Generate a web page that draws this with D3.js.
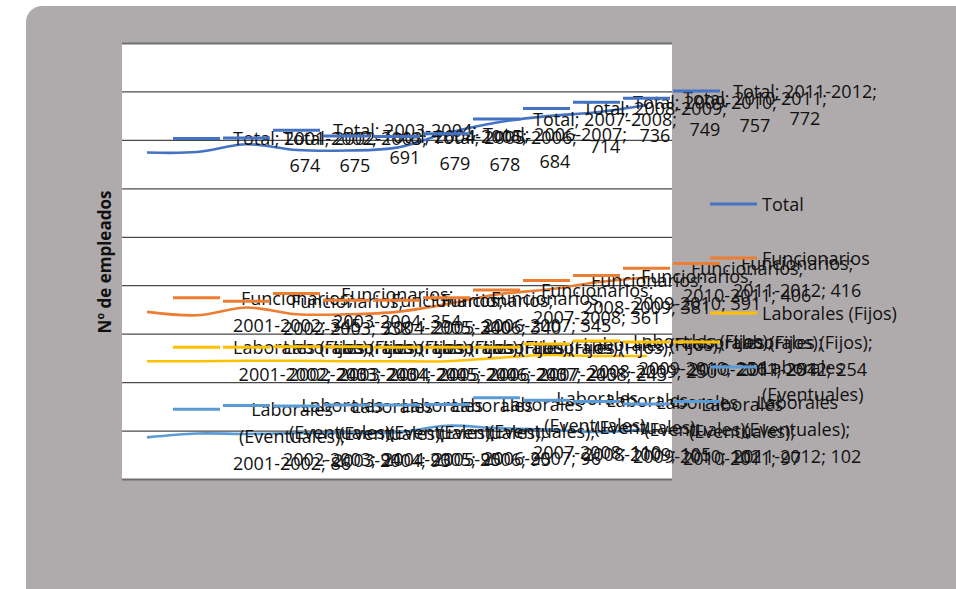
<!DOCTYPE html>
<html><head><meta charset="utf-8">
<script src="https://cdn.jsdelivr.net/npm/d3@7"></script>
<style>body{margin:0;background:#fff}svg{display:block}</style>
</head><body>
<svg id="c" width="956" height="589"></svg>
<script>
const categories = ["2001-2002","2002-2003","2003-2004","2004-2005","2005-2006","2006-2007","2007-2008","2008-2009","2009-2010","2010-2011","2011-2012"];
const total        = [674,675,691,679,678,684,714,736,749,757,772];
const funcionarios = [345,338,354,340,340,345,361,381,391,406,416];
const fijos        = [243,243,244,244,243,243,243,250,256,254,254];
const eventuales   = [86,94,93,95,95,96,110,105,102,97,102];
const seriesNames  = ["Total","Funcionarios","Laborales (Fijos)","Laborales (Eventuales)"];
const yTicks = [0,100,200,300,400,500,600,700,800,900];
const yTitle = "Nº de empleados";

const colors = ["#4472C4","#ED7D31","#FFC000","#5B9BD5"];
const seriesData = [total, funcionarios, fijos, eventuales];
const labelLines = [
  (c,v)=>[`Total; ${c};`, `${v}`],
  (c,v)=>["Funcionarios;", `${c}; ${v}`],
  (c,v)=>["Laborales (Fijos);", `${c}; ${v}`],
  (c,v)=>["Laborales", "(Eventuales);", `${c}; ${v}`]
];
const legendLines = [["Total"],["Funcionarios"],["Laborales (Fijos)"],["Laborales","(Eventuales)"]];

const svg = d3.select("#c");
const font = "'Open Sans', 'Liberation Sans', sans-serif";
svg.append("rect").attr("x",26).attr("y",6).attr("width",980).attr("height",640).attr("rx",16).attr("fill","#afabac");

const P = {l:122, r:672, t:43, b:479};
svg.append("rect").attr("x",P.l).attr("y",P.t).attr("width",P.r-P.l).attr("height",P.b-P.t).attr("fill","#fff");

const x = d3.scalePoint().domain(categories).range([147,647]);
const y = d3.scaleLinear().domain([0,900]).range([P.b,P.t]);

const yAxis = svg.append("g").attr("transform",`translate(${P.l},0)`)
  .call(d3.axisLeft(y).tickValues(yTicks).tickSize(-(P.r-P.l)).tickFormat(""));
yAxis.select(".domain").remove();
yAxis.selectAll(".tick line").attr("stroke","#4a4a4a").attr("stroke-width",1.3)
  .filter(d=>d===0||d===900).attr("stroke","#6f6f6f").attr("stroke-width",2.2);

svg.append("text").attr("transform",`translate(111,${(P.t+P.b)/2+1}) rotate(-90)`)
  .attr("text-anchor","middle").attr("font-family",font).attr("font-weight","bold")
  .attr("font-size",17).attr("fill","#111").text(yTitle);

const line = d3.line().x((d,i)=>x(categories[i])).y(d=>y(d)).curve(d3.curveCatmullRom.alpha(0.5));
seriesData.forEach((vals,s)=>{
  svg.append("path").datum(vals).attr("d",line).attr("fill","none")
    .attr("stroke",colors[s]).attr("stroke-width",2.6);
});

// data labels with legend keys
const labels = svg.append("g");
seriesData.forEach((vals,s)=>{
  vals.forEach((v,i)=>{
    const cx = x(categories[i]);
    const lines = labelLines[s](categories[i], v);
    const dy = y(v) - 14 - (lines.length-2)*14;
    const g = labels.append("g");
    g.append("line").attr("x1",cx+26).attr("x2",cx+73).attr("y1",dy).attr("y2",dy)
      .attr("stroke",colors[s]).attr("stroke-width",3);
    const texts = lines.map((t,k)=>g.append("text").attr("y",dy+7+k*27)
      .attr("font-family",font).attr("font-size",18).attr("fill","#111")
      .attr("text-anchor","middle").text(t));
    const w = d3.max(texts, t=>t.node().getComputedTextLength());
    texts.forEach(t=>t.attr("x",cx+86+w/2));
  });
});

// legend
const legY = [204,258,313,367];
legendLines.forEach((ls,s)=>{
  svg.append("line").attr("x1",710).attr("x2",757).attr("y1",legY[s]).attr("y2",legY[s])
    .attr("stroke",colors[s]).attr("stroke-width",3);
  ls.forEach((t,k)=>svg.append("text").attr("x",762).attr("y",legY[s]+7+k*27)
    .attr("font-family",font).attr("font-size",18).attr("fill","#111").text(t));
});
</script>
</body></html>
